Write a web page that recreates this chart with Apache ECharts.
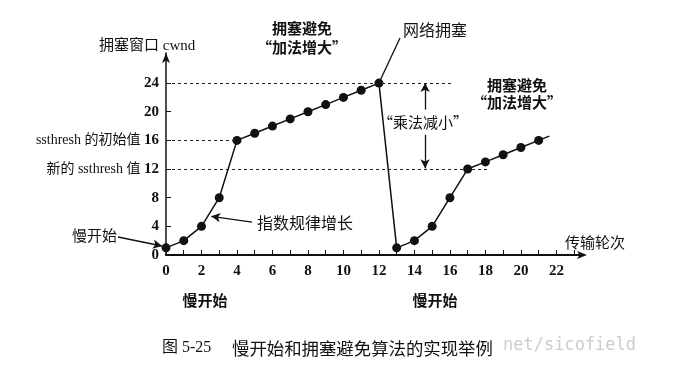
<!DOCTYPE html>
<html>
<head>
<meta charset="utf-8">
<script src="https://cdn.jsdelivr.net/npm/echarts@6/dist/echarts.min.js"></script>
<style>
html, body { margin: 0; padding: 0; background: #fff; }
#main { width: 692px; height: 376px; }
</style>
</head>
<body>
<div id="main"></div>
<script>
// transmission rounds and congestion window (last point is the open end of the line)
var rounds = [0, 1, 2, 3, 4, 5, 6, 7, 8, 9, 10, 11, 12, 13, 14, 15, 16, 17, 18, 19, 20, 21, 21.6];
var cwnd = [1, 2, 4, 8, 16, 17, 18, 19, 20, 21, 22, 23, 24, 1, 2, 4, 8, 12, 13, 14, 15, 16, 16.6];

var xTicks = [0, 1, 2, 3, 4, 5, 6, 7, 8, 9, 10, 11, 12, 13, 14, 15, 16, 17, 18, 19, 20, 21, 22, 23];
var xLabels = [0, 2, 4, 6, 8, 10, 12, 14, 16, 18, 20, 22];
var yLabels = [0, 4, 8, 12, 16, 20, 24];

// dashed guide lines: [cwnd, round where the line ends]
var guides = [[24, 16.2], [16, 4], [12, 18.1]];

// arrows in data space: [fromRound, fromCwnd, toRound, toCwnd]
var expArrow = [4.85, 4.6, 2.55, 5.4];
var halveUp = [14.6, 20.3, 14.6, 24];
var halveDown = [14.6, 16.8, 14.6, 12.1];

var serif = '"Liberation Serif", "Noto Sans CJK SC", serif';
var cjk = '"Noto Sans CJK SC", sans-serif';

function get_data(){
    var data = [];
    for(var i = 0; i < rounds.length; i++){
        if(i == rounds.length - 1){
            data.push({value: [rounds[i], cwnd[i]], symbol: 'none'});
        }else{
            data.push([rounds[i], cwnd[i]]);
        }
    }
    return data;
}

function seg(a, arrowEnd){
    return [
        {coord: [a[0], a[1]], symbol: 'none'},
        {coord: [a[2], a[3]], symbol: arrowEnd ? 'arrow' : 'none'}
    ];
}

function get_marklines(){
    var lines = [];
    for(var i = 0; i < guides.length; i++){
        lines.push([
            {coord: [0, guides[i][0]], symbol: 'none'},
            {coord: [guides[i][1], guides[i][0]], symbol: 'none',
             lineStyle: {type: [3, 3], width: 1, color: '#222'}}
        ]);
    }
    lines.push(seg(expArrow, true));
    lines.push(seg(halveUp, true));
    lines.push(seg(halveDown, true));
    // leader from the congestion point up to the "网络拥塞" label (above the plot)
    lines.push([{coord: [rounds[12], cwnd[12]], symbol: 'none'}, {x: 400, y: 38, symbol: 'none'}]);
    // "慢开始" pointer sits left of the y axis, outside the plot area
    lines.push([{x: 118, y: 237, symbol: 'none'}, {x: 162, y: 246, symbol: 'arrow'}]);
    return lines;
}

function txt(x, y, text, size, weight, family, align, color){
    return {
        type: 'text', x: x, y: y, silent: true,
        style: {
            text: text, fill: color || '#111',
            font: (weight || 'normal') + ' ' + size + 'px ' + (family || cjk),
            align: align || 'left', verticalAlign: 'middle',
            textAlign: align || 'left', textVerticalAlign: 'middle'
        }
    };
}

var chart = echarts.init(document.getElementById('main'));
var option = {
    backgroundColor: '#fff',
    animation: false,
    grid: {left: 166, right: 109, top: 53, bottom: 121, containLabel: false, outerBoundsMode: 'none'},
    xAxis: {
        type: 'value', min: 0, max: 23.5,
        axisLine: {show: true, lineStyle: {color: '#111', width: 2}, symbol: ['none', 'arrow'], symbolSize: [6, 10], symbolOffset: [0, 4]},
        axisTick: {show: true, inside: true, length: 5, customValues: xTicks, lineStyle: {color: '#111', width: 1}},
        axisLabel: {customValues: xLabels, margin: 9, color: '#111', fontSize: 15, fontWeight: 'bold', fontFamily: serif},
        splitLine: {show: false}
    },
    yAxis: {
        type: 'value', min: 0, max: 28.2,
        axisLine: {show: true, lineStyle: {color: '#111', width: 1.5}, symbol: ['none', 'arrow'], symbolSize: [6, 10]},
        axisTick: {show: true, inside: true, length: 5, customValues: yLabels, lineStyle: {color: '#111'}},
        axisLabel: {
            customValues: yLabels, margin: 7, color: '#111', fontSize: 15, fontFamily: serif,
            formatter: function(v){
                if(v == 16) return '{t|ssthresh 的初始值 }{n|16}';
                if(v == 12) return '{t|新的 ssthresh 值 }{n|12}';
                return '{n|' + v + '}';
            },
            rich: {
                t: {fontSize: 14, fontFamily: serif, color: '#111'},
                n: {fontSize: 15, fontWeight: 'bold', fontFamily: serif, color: '#111'}
            }
        },
        splitLine: {show: false}
    },
    series: [{
        type: 'line',
        data: get_data(),
        clip: false,
        symbol: 'circle',
        symbolSize: 9,
        color: '#111',
        lineStyle: {color: '#111', width: 1.5},
        itemStyle: {color: '#111'},
        markLine: {
            silent: true,
            symbolSize: [7, 9],
            label: {show: false},
            lineStyle: {color: '#111', width: 1.3, type: 'solid'},
            data: get_marklines()
        }
    }],
    graphic: [
        txt(99, 46, '拥塞窗口 cwnd', 15, 'normal', serif),
        txt(302, 28, '拥塞避免', 15, 'bold', cjk, 'center'),
        txt(302, 47, '“加法增大”', 15, 'bold', cjk, 'center'),
        txt(403, 30, '网络拥塞', 16),
        txt(423, 122, '“乘法减小”', 15, 'normal', cjk, 'center'),
        txt(517, 85, '拥塞避免', 15, 'bold', cjk, 'center'),
        txt(517, 102, '“加法增大”', 15, 'bold', cjk, 'center'),
        txt(257, 223, '指数规律增长', 16),
        txt(72, 235, '慢开始', 15),
        txt(565, 242, '传输轮次', 15),
        txt(205, 300, '慢开始', 15, 'bold', cjk, 'center'),
        txt(435, 300, '慢开始', 15, 'bold', cjk, 'center'),
        txt(162, 348, '图 5-25', 16, 'normal', serif),
        txt(232, 348, '慢开始和拥塞避免算法的实现举例', 17.4),
        txt(503, 346, 'net/sicofield', 17, 'normal', '"DejaVu Sans Mono", monospace', 'left', '#cccccc')
    ]
};
chart.setOption(option);
</script>
</body>
</html>
